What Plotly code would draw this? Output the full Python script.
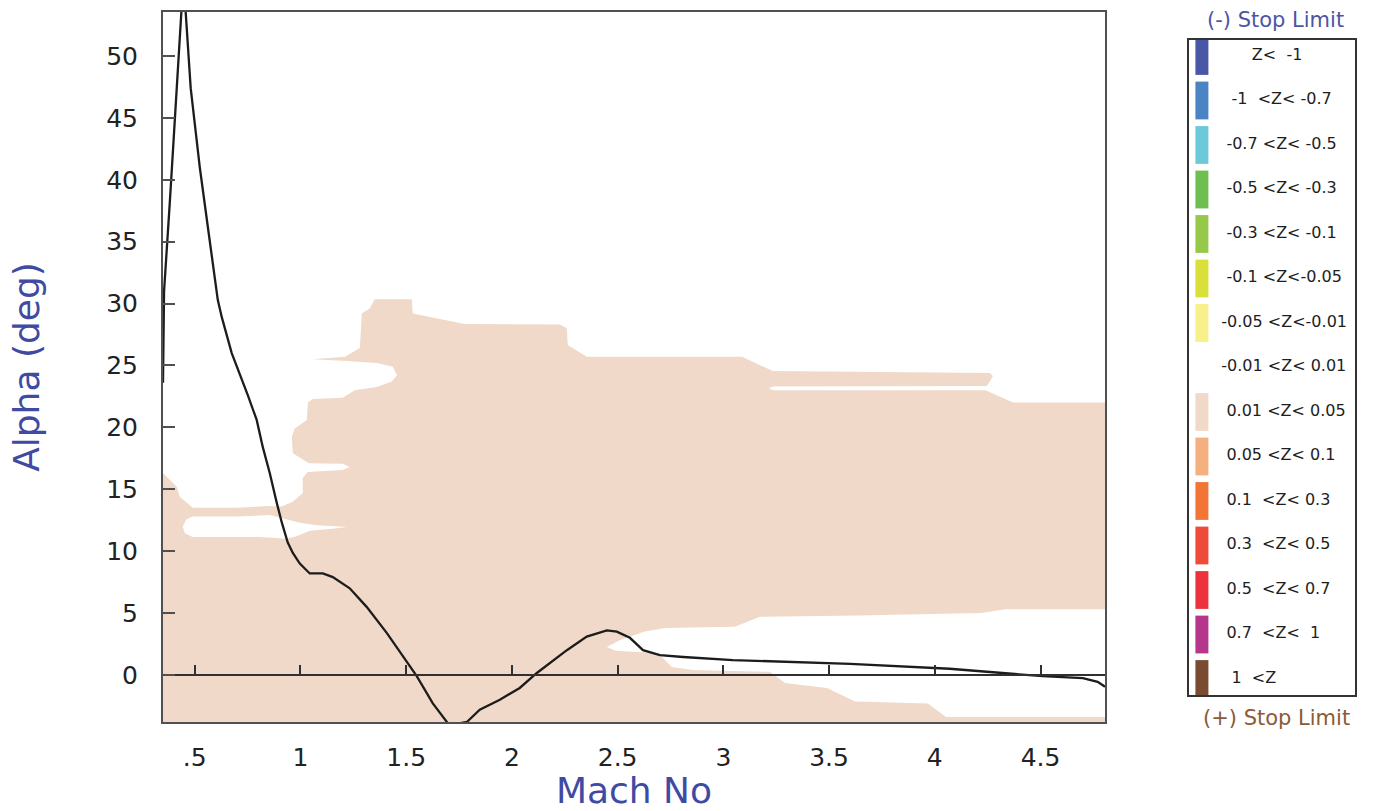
import plotly.graph_objects as go

# ---- trajectory: angle of attack vs Mach number ----
mach_curve = [0.350, 0.352, 0.355, 0.383, 0.409, 0.437, 0.447, 0.457, 0.481, 0.524,
              0.566, 0.609, 0.628, 0.675, 0.751, 0.793, 0.822, 0.855, 0.888, 0.912,
              0.940, 0.964, 0.997, 1.044, 1.106, 1.153, 1.233, 1.313, 1.408, 1.470,
              1.550, 1.626, 1.697, 1.720, 1.787, 1.848, 1.943, 2.037, 2.118, 2.260,
              2.354, 2.449, 2.496, 2.558, 2.620, 2.700, 2.810, 3.045, 3.360, 3.600,
              4.070, 4.510, 4.700, 4.770, 4.805]
alpha_curve = [23.6, 27.0, 31.0, 38.4, 45.6, 53.6, 54.3, 53.6, 47.4, 41.0,
               35.7, 30.3, 28.9, 26.0, 22.6, 20.6, 18.4, 16.3, 13.9, 12.3,
               10.7, 9.85, 9.0, 8.2, 8.2, 7.9, 7.0, 5.5, 3.4, 1.9,
               -0.1, -2.3, -3.9, -4.0, -3.8, -2.8, -2.0, -1.05, 0.16, 2.0,
               3.1, 3.6, 3.5, 3.0, 2.0, 1.6, 1.45, 1.2, 1.0, 0.9,
               0.5, -0.1, -0.25, -0.55, -0.95]

# ---- 0.01 < Z < 0.05 zone, outer boundary ----
zone_mach = [0.350, 0.350, 0.368, 0.415, 0.429, 0.491, 0.699, 0.855, 0.911, 0.964,
             1.011, 1.011, 1.035, 1.200, 1.233, 1.200, 1.040, 0.964, 0.959, 0.973,
             1.030, 1.035, 1.058, 1.200, 1.257, 1.361, 1.432, 1.456, 1.437, 1.361,
             1.219, 1.058, 1.210, 1.281, 1.290, 1.328, 1.351, 1.527, 1.531, 1.754,
             1.777, 2.227, 2.260, 2.264, 2.354, 3.088, 3.173, 3.234, 4.261, 4.275,
             4.246, 3.235, 3.215, 3.235, 4.240, 4.370, 4.805, 4.805, 4.336, 4.218,
             3.636, 3.173, 3.054, 2.723, 2.624, 2.510, 2.449, 2.491, 2.657, 2.709,
             2.756, 2.856, 3.220, 3.291, 3.490, 3.622, 3.967, 4.053, 4.805, 4.805]
zone_alpha = [-5.0, 16.3, 16.0, 15.2, 14.4, 13.5, 13.5, 13.65, 13.6, 14.0,
              14.7, 15.9, 16.4, 16.55, 16.8, 17.05, 17.1, 17.9, 19.2, 19.9,
              20.6, 22.0, 22.3, 22.4, 23.0, 23.25, 23.7, 24.2, 24.9, 25.2,
              25.35, 25.5, 25.7, 26.4, 29.2, 29.6, 30.35, 30.35, 29.2, 28.4,
              28.35, 28.3, 28.0, 26.65, 25.7, 25.7, 25.0, 24.55, 24.4, 24.15,
              23.35, 23.3, 23.15, 23.0, 23.0, 22.0, 22.0, 5.3, 5.3, 5.0,
              4.8, 4.7, 3.9, 3.8, 3.5, 2.8, 2.25, 1.95, 1.8, 1.45,
              0.65, 0.4, 0.25, -0.65, -1.05, -2.15, -2.3, -3.4, -3.4, -5.0]

# ---- enclosed pocket of |Z| < 0.01 inside the zone ----
pocket_mach = [0.443, 0.460, 0.490, 0.700, 0.855, 0.920, 0.997, 1.077, 1.219, 1.153,
               1.044, 0.982, 0.935, 0.807, 0.490, 0.453]
pocket_alpha = [12.0, 12.55, 12.79, 12.79, 12.92, 12.65, 12.3, 12.1, 11.95, 11.8,
                11.65, 11.2, 11.0, 11.15, 11.15, 11.45]

# ---- axes ----
x_ticks = [0.5, 1, 1.5, 2, 2.5, 3, 3.5, 4, 4.5]
x_tick_text = [".5", "1", "1.5", "2", "2.5", "3", "3.5", "4", "4.5"]
y_ticks = [0, 5, 10, 15, 20, 25, 30, 35, 40, 45, 50]
x_range = [0.35, 4.805]
y_range = [-3.8, 53.55]

# ---- colour key ----
key_labels = ["Z<  -1", "-1  <Z< -0.7", "-0.7 <Z< -0.5", "-0.5 <Z< -0.3",
              "-0.3 <Z< -0.1", "-0.1 <Z<-0.05", "-0.05 <Z<-0.01", "-0.01 <Z< 0.01",
              "0.01 <Z< 0.05", "0.05 <Z< 0.1", "0.1  <Z< 0.3", "0.3  <Z< 0.5",
              "0.5  <Z< 0.7", "0.7  <Z<  1", "1  <Z"]
key_colors = ["#4a56a6", "#4a84c4", "#6cc9d8", "#6ebf4f", "#96c84a", "#d9e03a",
              "#f8f08a", "rgba(0,0,0,0)", "#f0d9c8", "#f4b07e", "#f27535", "#ef4b39",
              "#ec323c", "#b5368a", "#7a4b30"]
key_indent = [6, 2, 1, 1, 1, 1, 0, 0, 1, 1, 1, 1, 1, 1, 2]

SHADE = "#f0d9c8"
BLUE = "#3f4ba3"
BROWN = "#8b5a36"
FRAME = "#505050"
FONT = "DejaVu Sans"

fig = go.Figure()

fig.add_trace(go.Scatter(x=zone_mach, y=zone_alpha, mode="lines", fill="toself",
                         fillcolor=SHADE, line=dict(width=0, color=SHADE),
                         hoverinfo="skip", showlegend=False))
fig.add_trace(go.Scatter(x=pocket_mach, y=pocket_alpha, mode="lines", fill="toself",
                         fillcolor="white", line=dict(width=0, color="white"),
                         hoverinfo="skip", showlegend=False))
fig.add_trace(go.Scatter(x=mach_curve, y=alpha_curve, mode="lines",
                         line=dict(color="#1c1c1c", width=2.3),
                         showlegend=False))
# empty trace so the alpha = 0 reference axis gets drawn
fig.add_trace(go.Scatter(x=[], y=[], xaxis="x2", yaxis="y", mode="lines",
                         hoverinfo="skip", showlegend=False))

# colour key drawn in its own small axes box
nbsp = "\u00a0"
key_text = [nbsp * n + s.replace("  ", nbsp + nbsp) for s, n in zip(key_labels, key_indent)]
idx = list(range(len(key_labels)))
fig.add_trace(go.Scatter(x=[0.078] * len(idx), y=idx, mode="markers",
                         marker=dict(symbol="line-ns", size=27,
                                     line=dict(width=13, color=key_colors)),
                         xaxis="x3", yaxis="y3", hoverinfo="skip", showlegend=False))
fig.add_trace(go.Scatter(x=[0.195] * len(idx), y=idx, mode="text", text=key_text,
                         textposition="middle right",
                         textfont=dict(family=FONT, size=16, color="#1e1e1e"),
                         xaxis="x3", yaxis="y3", hoverinfo="skip", showlegend=False))

zero_pos = (0 - y_range[0]) / (y_range[1] - y_range[0])
main_dom = [0, 0.7903]

fig.update_layout(
    width=1377, height=811,
    margin=dict(l=163, r=22, t=12, b=89),
    paper_bgcolor="white", plot_bgcolor="white",
    xaxis=dict(domain=main_dom, range=x_range, showgrid=False, zeroline=False,
               showline=True, mirror=True, linecolor=FRAME, linewidth=2,
               ticks="", tickvals=x_ticks, ticktext=x_tick_text,
               tickfont=dict(family=FONT, size=25, color="#222"),
               ticklabelstandoff=12, automargin=False,
               title=dict(text="Mach No", font=dict(family=FONT, size=36, color=BLUE),
                          standoff=6)),
    yaxis=dict(domain=[0, 1], range=y_range, showgrid=False, zeroline=False,
               showline=True, mirror=True, linecolor=FRAME, linewidth=2,
               ticks="inside", ticklen=12, tickwidth=1.5, tickcolor=FRAME,
               tickvals=y_ticks, tickfont=dict(family=FONT, size=25, color="#222"),
               ticklabelstandoff=18, automargin=False,
               title=dict(text="Alpha (deg)", font=dict(family=FONT, size=36, color=BLUE),
                          standoff=56)),
    xaxis2=dict(overlaying="x", anchor="free", position=zero_pos, side="bottom",
                domain=main_dom, range=x_range, showgrid=False, zeroline=False,
                showline=True, linecolor="#303030", linewidth=1.5,
                ticks="inside", ticklen=9, tickwidth=1.5, tickcolor="#303030",
                tickvals=x_ticks, showticklabels=False, automargin=False),
    xaxis3=dict(domain=[0.8607, 1.0], anchor="y3", range=[0, 1], showgrid=False,
                zeroline=False, showline=True, mirror=True, linecolor="#333",
                linewidth=1.5, ticks="", showticklabels=False, fixedrange=True,
                automargin=False),
    yaxis3=dict(domain=[0.038, 0.9606], anchor="x3", range=[14.36, -0.36],
                showgrid=False, zeroline=False, showline=True, mirror=True,
                linecolor="#333", linewidth=1.5, ticks="", showticklabels=False,
                fixedrange=True, automargin=False),
    annotations=[
        dict(text="(-) Stop Limit", xref="paper", yref="paper", x=0.9337, y=0.9887,
             xanchor="center", yanchor="middle", showarrow=False,
             font=dict(family=FONT, size=21, color="#4b55a5")),
        dict(text="(+) Stop Limit", xref="paper", yref="paper", x=0.9345, y=0.0056,
             xanchor="center", yanchor="middle", showarrow=False,
             font=dict(family=FONT, size=21, color=BROWN)),
    ],
)

fig.write_html("out.html")
